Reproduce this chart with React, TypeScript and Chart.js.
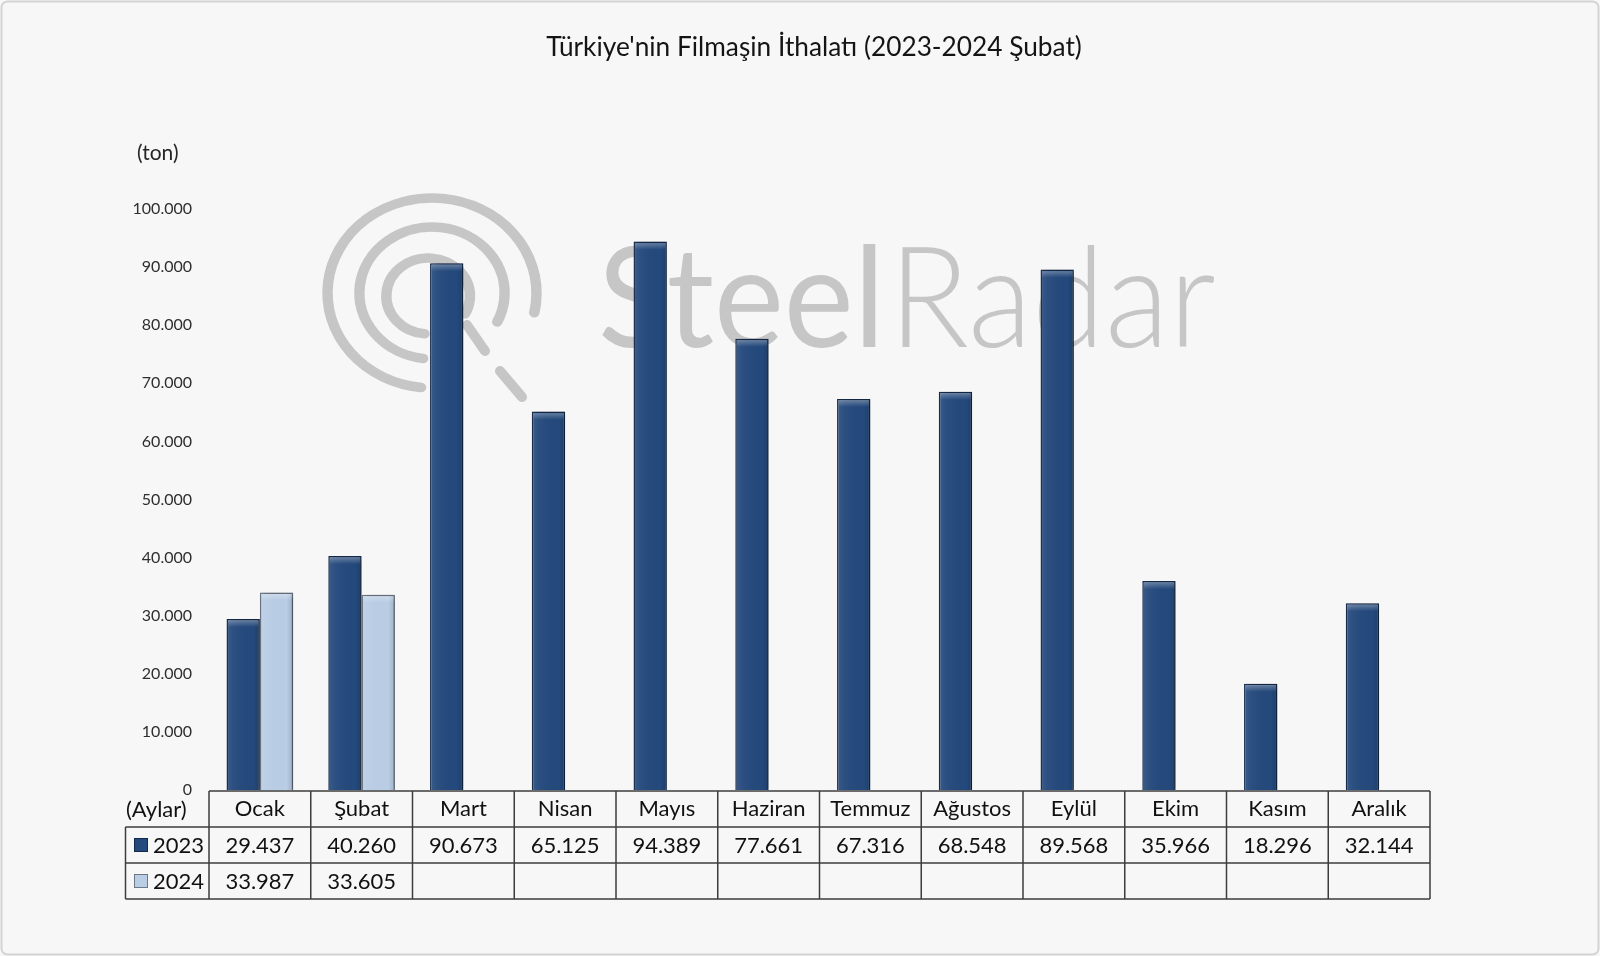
import React, { useEffect, useRef } from "react";
import { Chart, registerables } from "chart.js";

Chart.register(...registerables);

const months = ["Ocak", "Şubat", "Mart", "Nisan", "Mayıs", "Haziran", "Temmuz", "Ağustos", "Eylül", "Ekim", "Kasım", "Aralık"];
const values2023 = [29437, 40260, 90673, 65125, 94389, 77661, 67316, 68548, 89568, 35966, 18296, 32144];
const values2024: (number | null)[] = [33987, 33605, null, null, null, null, null, null, null, null, null, null];
const seriesNames = ["2023", "2024"];
const titleText = "Türkiye'nin Filmaşin İthalatı (2023-2024 Şubat)";
const unitText = "(ton)";
const categoryHeader = "(Aylar)";
const watermarkWords = ["Steel", "Radar"];
const yMax = 100000;
const yStep = 10000;

const FONT = "Lato, 'Open Sans', sans-serif";
const DARK = "#24497c";
const DARK_BORDER = "#142a4b";
const LIGHT = "#b9cde5";
const LIGHT_BORDER = "#6d7887";
const WM = "#c6c6c6";

function fmt(v: number): string {
  return String(Math.round(v)).replace(/\B(?=(\d{3})+(?!\d))/g, ".");
}

function drawWatermark(ctx: CanvasRenderingContext2D) {
  const d = (a: number) => (a * Math.PI) / 180;
  ctx.save();
  ctx.strokeStyle = WM;
  ctx.lineCap = "round";
  ctx.save();
  ctx.translate(432, 293);
  ctx.scale(1.1, 1);
  ctx.lineWidth = 9.5;
  ctx.beginPath(); ctx.arc(0, 0, 95, d(96), d(372)); ctx.stroke();
  ctx.beginPath(); ctx.arc(0, 0, 66, d(97), d(386)); ctx.stroke();
  ctx.beginPath(); ctx.arc(-3.5, 3, 38, d(95), d(388)); ctx.stroke();
  ctx.restore();
  ctx.lineWidth = 10;
  ctx.beginPath(); ctx.moveTo(467, 325); ctx.lineTo(485, 351); ctx.stroke();
  ctx.beginPath(); ctx.moveTo(500, 371); ctx.lineTo(522, 397); ctx.stroke();
  ctx.fillStyle = WM;
  ctx.textBaseline = "alphabetic";
  ctx.textAlign = "left";
  const size = 140;
  const f1 = `400 ${size}px ${FONT}`;
  const f2 = `300 ${size}px ${FONT}`;
  ctx.font = f1;
  const w1 = ctx.measureText(watermarkWords[0]).width;
  ctx.font = f2;
  const w2 = ctx.measureText(watermarkWords[1]).width;
  const sx = 614 / (w1 + w2);
  ctx.translate(598, 347);
  ctx.scale(sx, 1);
  ctx.font = f1;
  ctx.fillText(watermarkWords[0], 0, 0);
  ctx.font = f2;
  ctx.fillText(watermarkWords[1], w1 + 4, 0);
  ctx.restore();
}

const backgroundPlugin = {
  id: "backgroundPlugin",
  beforeDraw(chart: any) {
    const { ctx, width, height } = chart;
    ctx.save();
    ctx.fillStyle = "#f7f7f7";
    ctx.fillRect(0, 0, width, height);
    ctx.strokeStyle = "#d4d4d4";
    ctx.lineWidth = 2;
    ctx.beginPath();
    if ((ctx as any).roundRect) (ctx as any).roundRect(1.5, 1.5, width - 3, height - 3, 6);
    else ctx.rect(1.5, 1.5, width - 3, height - 3);
    ctx.stroke();
    drawWatermark(ctx);
    ctx.fillStyle = "#141414";
    ctx.textAlign = "center";
    ctx.textBaseline = "middle";
    let ts = 23;
    ctx.font = `${ts}px ${FONT}`;
    const tw = ctx.measureText(titleText).width;
    ts = ts * (536 / tw);
    ctx.font = `${ts}px ${FONT}`;
    ctx.fillText(titleText, 814, 48);
    ctx.fillStyle = "#262626";
    ctx.textAlign = "left";
    ctx.font = `21px ${FONT}`;
    ctx.fillText(unitText, 137, 153);
    ctx.restore();
  },
};

const barShadePlugin = {
  id: "barShadePlugin",
  beforeDatasetsDraw(chart: any) {
    const ctx = chart.ctx;
    ctx.save();
    ctx.shadowColor = "rgba(0,0,0,0.35)";
    ctx.shadowBlur = 5;
    ctx.shadowOffsetX = 2;
    ctx.shadowOffsetY = 1;
  },
  afterDatasetsDraw(chart: any) {
    const ctx = chart.ctx;
    ctx.restore();
    ctx.save();
    chart.data.datasets.forEach((ds: any, di: number) => {
      const meta = chart.getDatasetMeta(di);
      meta.data.forEach((el: any, i: number) => {
        if (ds.data[i] == null) return;
        const { x, y, base, width } = el.getProps(["x", "y", "base", "width"], true);
        const l = x - width / 2;
        const r = x + width / 2;
        const g = ctx.createLinearGradient(l, 0, r, 0);
        g.addColorStop(0, "rgba(255,255,255,0.10)");
        g.addColorStop(0.2, "rgba(255,255,255,0.04)");
        g.addColorStop(0.8, "rgba(0,0,0,0)");
        g.addColorStop(1, "rgba(0,0,0,0.14)");
        ctx.fillStyle = g;
        ctx.fillRect(l + 1, y + 1, width - 2, base - y - 1);
        const tg = ctx.createLinearGradient(0, y, 0, y + 8);
        tg.addColorStop(0, "rgba(255,255,255,0.35)");
        tg.addColorStop(1, "rgba(255,255,255,0)");
        ctx.fillStyle = tg;
        ctx.fillRect(l + 1.5, y + 1.5, width - 3, 7);
      });
    });
    ctx.restore();
  },
};

const tablePlugin = {
  id: "tablePlugin",
  afterDraw(chart: any) {
    const { ctx, chartArea } = chart;
    const xs = chart.scales.x;
    const n = months.length;
    const colW = (chartArea.right - chartArea.left) / n;
    const rowH = 36;
    const top = chartArea.bottom + 1;
    const legendLeft = 125.5;
    ctx.save();
    ctx.strokeStyle = "#3c3c3c";
    ctx.lineWidth = 1.5;
    const line = (x1: number, y1: number, x2: number, y2: number) => {
      ctx.beginPath(); ctx.moveTo(x1, y1); ctx.lineTo(x2, y2); ctx.stroke();
    };
    line(chartArea.left, top, chartArea.right, top);
    for (let r = 1; r <= 3; r++) line(legendLeft, top + r * rowH, chartArea.right, top + r * rowH);
    for (let i = 0; i <= n; i++) {
      const x = chartArea.left + i * colW;
      line(x, top, x, top + 3 * rowH);
    }
    line(legendLeft, top + rowH, legendLeft, top + 3 * rowH);

    ctx.fillStyle = "#111";
    ctx.textBaseline = "middle";
    ctx.font = `22px ${FONT}`;
    ctx.textAlign = "center";
    const rows = [values2023, values2024];
    months.forEach((m, i) => {
      const cx = xs.getPixelForValue(i);
      ctx.fillText(m, cx, top + rowH / 2);
      rows.forEach((vals, ri) => {
        const v = vals[i];
        if (v != null) ctx.fillText(fmt(v), cx, top + rowH * (ri + 1.5) + 1);
      });
    });
    ctx.textAlign = "left";
    ctx.fillText(categoryHeader, 126, top + rowH / 2 + 1);
    const fills = [DARK, LIGHT];
    const borders = [DARK_BORDER, LIGHT_BORDER];
    seriesNames.forEach((s, ri) => {
      const cy = top + rowH * (ri + 1.5);
      ctx.fillStyle = fills[ri];
      ctx.fillRect(134, cy - 7, 14, 14);
      ctx.strokeStyle = borders[ri];
      ctx.lineWidth = 1;
      ctx.strokeRect(134.5, cy - 6.5, 13, 13);
      ctx.fillStyle = "#111";
      ctx.fillText(s, 153, cy + 1);
    });
    ctx.restore();
  },
};

export default function App() {
  const ref = useRef<HTMLCanvasElement | null>(null);
  useEffect(() => {
    if (!ref.current) return;
    const chart = new Chart(ref.current, {
      type: "bar",
      data: {
        labels: months,
        datasets: [
          {
            label: seriesNames[0],
            data: values2023,
            backgroundColor: DARK,
            borderColor: DARK_BORDER,
            borderWidth: 1.5,
            categoryPercentage: 0.655,
            barPercentage: 1,
          },
          {
            label: seriesNames[1],
            data: values2024,
            backgroundColor: LIGHT,
            borderColor: LIGHT_BORDER,
            borderWidth: 1.5,
            categoryPercentage: 0.655,
            barPercentage: 1,
          },
        ],
      },
      options: {
        animation: false,
        responsive: false,
        devicePixelRatio: 1,
        layout: { padding: { left: 0, right: 170, top: 209, bottom: 166 } },
        plugins: {
          legend: { display: false },
          title: { display: false },
          tooltip: { enabled: false },
        },
        scales: {
          x: { display: false },
          y: {
            min: 0,
            max: yMax,
            afterFit(scale: any) { scale.width = 209; },
            grid: { display: false, drawTicks: false },
            border: { display: false },
            ticks: {
              stepSize: yStep,
              padding: 17,
              color: "#2e2e2e",
              font: { family: FONT, size: 16 },
              callback: (v: any) => fmt(Number(v)),
            },
          },
        },
      },
      plugins: [backgroundPlugin, barShadePlugin, tablePlugin],
    });
    return () => chart.destroy();
  }, []);
  return (
    <div style={{ position: "absolute", left: 0, top: 0, width: 1600, height: 956 }}>
      <canvas ref={ref} width={1600} height={956} style={{ display: "block" }} />
    </div>
  );
}
